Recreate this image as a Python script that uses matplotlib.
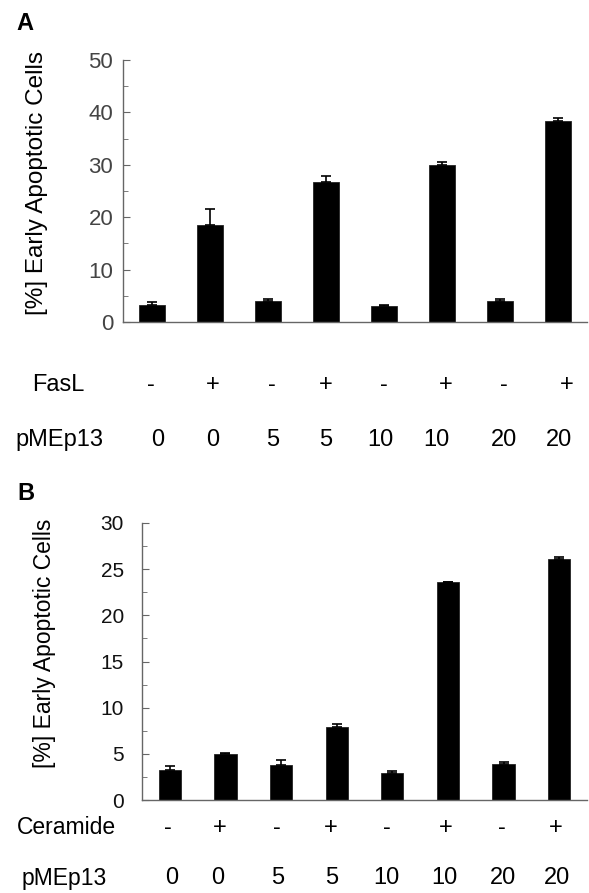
import matplotlib
matplotlib.use("Agg")
import matplotlib.pyplot as plt
from matplotlib.ticker import MultipleLocator

# ----- data -----
fasl = ['-', '+', '-', '+', '-', '+', '-', '+']
ceramide = ['-', '+', '-', '+', '-', '+', '-', '+']
pmep13 = ['0', '0', '5', '5', '10', '10', '20', '20']

# panel A: FasL
early_a = [3.2, 18.5, 4.0, 26.7, 3.0, 30.0, 4.0, 38.4]
err_a = [0.6, 3.0, 0.4, 1.2, 0.2, 0.5, 0.3, 0.5]

# panel B: Ceramide
early_b = [3.25, 5.0, 3.8, 7.9, 2.9, 23.6, 3.9, 26.1]
err_b = [0.45, 0.1, 0.5, 0.3, 0.2, 0.05, 0.2, 0.2]

W, H = 589, 893
plt.rcParams['font.family'] = ['Liberation Sans', 'DejaVu Sans']
fig = plt.figure(figsize=(W / 100, H / 100), dpi=100)


def px(x, y):
    # pixel position (from top left) -> figure fraction
    return x / W, 1 - y / H


def bar_panel(ax, values, errs, ymax, major, minor, width):
    x = list(range(len(values)))
    ax.bar(x, values, width=width, color='black', edgecolor='#222222', linewidth=0.6)
    ax.errorbar(x, values, yerr=[[0] * len(errs), errs], fmt='none',
                ecolor='black', elinewidth=1.2, capsize=3.5, capthick=1.2)
    ax.set_xlim(-0.5, len(values) - 0.5)
    ax.set_ylim(0, ymax)
    ax.yaxis.set_major_locator(MultipleLocator(major))
    ax.yaxis.set_minor_locator(MultipleLocator(minor))
    for s in ['top', 'right']:
        ax.spines[s].set_visible(False)
    for s in ['left', 'bottom']:
        ax.spines[s].set_color('#666666')
        ax.spines[s].set_linewidth(1.0)
    ax.set_xticks([])
    ax.tick_params(axis='y', which='both', direction='in', color='#666666')
    ax.tick_params(axis='y', which='major', length=5)
    ax.tick_params(axis='y', which='minor', length=3.5)


ROW_FS = 17

# ---- panel A ----
axA = fig.add_axes([123 / W, 1 - 322 / H, 464 / W, 262 / H])
bar_panel(axA, early_a, err_a, 50, 10, 5, 0.45)
axA.tick_params(axis='y', labelsize=16, labelcolor='#444444', pad=7)
fig.text(*px(37, 183), '[%] Early Apoptotic Cells', fontsize=17.5,
         rotation=90, ha='center', va='center')
fig.text(*px(25, 24), 'A', fontsize=17, fontweight='bold', va='center', ha='center')

# label rows under panel A
fig.text(*px(32, 385), 'FasL', fontsize=ROW_FS, va='center', ha='left')
fig.text(*px(15, 440), 'pMEp13', fontsize=ROW_FS, va='center', ha='left')
sign_x_a = [151, 213, 272, 326, 384, 446, 504, 567]
num_x_a = [158, 213, 273, 326, 380, 436, 504, 559]
for xs, s in zip(sign_x_a, fasl):
    fig.text(*px(xs, 385), s, fontsize=ROW_FS, va='center', ha='center')
for xs, s in zip(num_x_a, pmep13):
    fig.text(*px(xs, 440), s, fontsize=ROW_FS, va='center', ha='center')

# ---- panel B ----
axB = fig.add_axes([142 / W, 1 - 800 / H, 445 / W, 277 / H])
bar_panel(axB, early_b, err_b, 30, 5, 2.5, 0.40)
axB.tick_params(axis='y', labelsize=15, labelcolor='#111111', pad=13)
fig.text(*px(45, 643), '[%] Early Apoptotic Cells', fontsize=16.5,
         rotation=90, ha='center', va='center')
fig.text(*px(26, 494), 'B', fontsize=17, fontweight='bold', va='center', ha='center')

fig.text(*px(17, 828), 'Ceramide', fontsize=16.5, va='center', ha='left')
fig.text(*px(22, 878), 'pMEp13', fontsize=16.5, va='center', ha='left')
sign_x_b = [168, 220, 277, 331, 387, 446, 502, 556]
num_x_b = [172, 218, 278, 332, 386, 444, 503, 557]
for xs, s in zip(sign_x_b, ceramide):
    fig.text(*px(xs, 828), s, fontsize=ROW_FS, va='center', ha='center')
for xs, s in zip(num_x_b, pmep13):
    fig.text(*px(xs, 878), s, fontsize=ROW_FS, va='center', ha='center')

fig.savefig('out.png', dpi=100)
